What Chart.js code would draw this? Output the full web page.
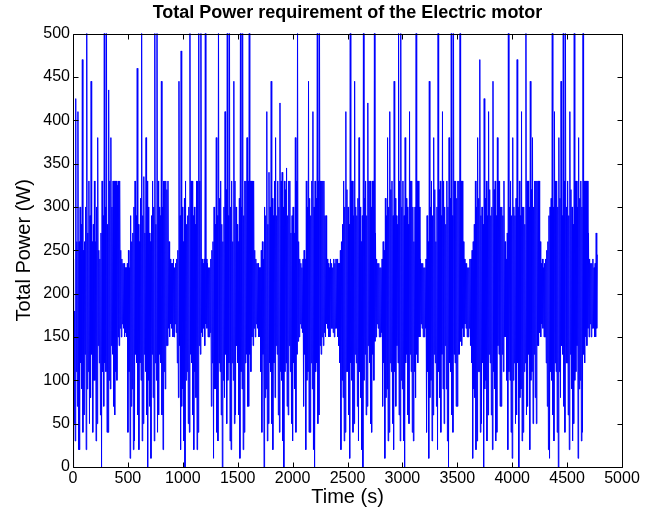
<!DOCTYPE html>
<html>
<head>
<meta charset="utf-8">
<title>Total Power requirement of the Electric motor</title>
<script src="https://cdn.jsdelivr.net/npm/chart.js@4.4.1/dist/chart.umd.min.js"></script>
<style>
  html, body { margin: 0; padding: 0; background: #fff; }
  #wrap { width: 652px; height: 513px; }
</style>
</head>
<body>
<div id="wrap"><canvas id="powerChart" width="652" height="513"></canvas></div>
<script>
/* Sample spacing of the trace, seconds */
const SAMPLE_STEP = 5;

/* Total power (W) in four ~1200 s blocks (20 samples per row = 100 s) */
const cycle1 = [
  0, 240, 50, 180, 30, 425, 110, 260, 70, 410, 20, 260, 20, 300, 120, 280, 90, 470, 40, 250,
  60, 260, 130, 300, 20, 540, 90, 270, 110, 330, 50, 290, 80, 445, 130, 260, 40, 280, 100, 330,
  100, 260, 30, 300, 50, 380, 140, 250, 120, 240, 60, 270, 0, 330, 110, 290, 70, 540, 120, 300,
  110, 520, 40, 280, 40, 435, 100, 330, 90, 380, 140, 300, 130, 330, 70, 330, 60, 330, 110, 330,
  100, 325, 150, 330, 140, 330, 160, 250, 150, 240, 165, 235, 160, 235, 150, 230, 155, 230, 150, 235,
  40, 250, 110, 230, 10, 290, 70, 260, 90, 270, 20, 300, 30, 330, 130, 290, 120, 460, 60, 280,
  20, 260, 120, 310, 100, 540, 30, 290, 50, 335, 130, 270, 110, 380, 60, 330, 0, 300, 100, 270,
  70, 260, 10, 290, 130, 330, 80, 300, 30, 520, 120, 280, 100, 560, 40, 330, 60, 300, 130, 290,
  120, 445, 60, 300, 20, 330, 110, 330, 90, 330, 140, 320, 140, 330, 160, 260, 150, 240, 165, 235,
  160, 235, 150, 240, 150, 230, 165, 235, 155, 240, 120, 250, 80, 445, 140, 290, 20, 480, 70, 300,
  90, 260, 30, 310, 0, 330, 100, 280, 110, 290, 50, 300, 40, 520, 130, 330, 120, 330, 60, 290,
  20, 300, 110, 280, 80, 330, 20, 330, 40, 540, 140, 330, 130, 520, 155, 240, 150, 235, 160, 240,
];
const cycle2 = [
  140, 540, 165, 240, 160, 235, 150, 230, 150, 230, 155, 240, 70, 250, 120, 260, 10, 300, 90, 280,
  90, 380, 40, 290, 30, 540, 120, 310, 110, 330, 60, 280, 0, 260, 100, 300, 80, 410, 130, 320,
  50, 520, 100, 290, 120, 560, 30, 300, 20, 330, 120, 260, 100, 445, 50, 330, 60, 300, 140, 280,
  120, 260, 60, 310, 10, 540, 110, 300, 90, 520, 20, 290, 40, 330, 120, 330, 130, 380, 70, 330,
  70, 520, 130, 330, 110, 330, 150, 330, 140, 330, 160, 250, 150, 240, 165, 235, 160, 235, 150, 230,
  150, 230, 110, 250, 40, 260, 130, 240, 0, 300, 80, 290, 90, 410, 30, 280, 50, 340, 120, 300,
  110, 445, 50, 310, 20, 290, 120, 330, 80, 380, 140, 290, 130, 330, 60, 300, 40, 420, 110, 330,
  100, 340, 30, 300, 0, 330, 110, 320, 120, 345, 70, 290, 60, 330, 140, 330, 110, 270, 50, 290,
  30, 300, 120, 270, 90, 380, 40, 330, 130, 520, 145, 260, 150, 240, 165, 235, 160, 230, 155, 240,
  70, 250, 130, 240, 20, 330, 100, 300, 110, 445, 40, 310, 40, 290, 120, 330, 90, 410, 20, 300,
  0, 330, 110, 310, 120, 540, 50, 330, 60, 520, 140, 330, 130, 330, 150, 330, 140, 330, 155, 290,
  150, 290, 165, 240, 160, 235, 150, 230, 150, 240, 160, 235, 160, 230, 155, 240, 150, 235, 160, 240,
];
const cycle3 = [
  160, 240, 150, 235, 140, 235, 120, 250, 20, 260, 100, 280, 80, 330, 30, 300, 40, 410, 110, 320,
  110, 300, 60, 280, 10, 520, 120, 330, 100, 330, 40, 290, 50, 445, 130, 300, 120, 290, 70, 310,
  30, 380, 110, 300, 80, 260, 20, 290, 0, 540, 100, 310, 130, 330, 60, 290, 70, 420, 140, 330,
  120, 330, 50, 300, 40, 330, 130, 330, 100, 520, 145, 270, 150, 240, 165, 235, 160, 235, 150, 230,
  150, 230, 155, 240, 70, 260, 120, 250, 10, 310, 80, 290, 90, 380, 30, 300, 40, 410, 120, 320,
  110, 330, 50, 290, 20, 445, 110, 310, 70, 290, 140, 280, 120, 540, 60, 330, 30, 520, 100, 300,
  90, 330, 30, 290, 0, 380, 120, 310, 130, 300, 60, 280, 50, 410, 130, 330, 110, 330, 40, 300,
  30, 260, 110, 300, 80, 520, 130, 330, 120, 330, 150, 300, 150, 240, 165, 235, 160, 235, 150, 230,
  150, 230, 160, 240, 40, 290, 110, 260, 10, 445, 80, 300, 100, 330, 30, 290, 60, 380, 130, 320,
  120, 260, 70, 300, 20, 540, 110, 320, 80, 330, 40, 290, 130, 410, 90, 330, 50, 300, 140, 280,
  90, 330, 30, 300, 0, 380, 120, 310, 110, 520, 60, 290, 40, 560, 130, 330, 120, 330, 70, 310,
  70, 330, 130, 330, 130, 520, 145, 330, 140, 330, 160, 260, 150, 240, 165, 235, 160, 235, 150, 230,
];
const cycle4 = [
  150, 230, 160, 240, 140, 240, 120, 250, 10, 260, 90, 280, 80, 330, 20, 300, 30, 380, 110, 310,
  110, 470, 40, 290, 50, 300, 120, 280, 0, 425, 90, 310, 100, 330, 30, 290, 60, 410, 130, 320,
  120, 290, 60, 300, 20, 445, 110, 320, 90, 330, 30, 290, 40, 380, 140, 330, 130, 330, 70, 300,
  70, 300, 130, 290, 110, 330, 150, 260, 150, 240, 100, 270, 20, 520, 110, 300, 100, 330, 40, 290,
  10, 380, 100, 300, 120, 290, 50, 310, 60, 470, 120, 300, 0, 330, 80, 290, 90, 410, 30, 300,
  40, 300, 110, 280, 120, 540, 60, 330, 70, 330, 130, 300, 20, 445, 100, 320, 110, 380, 50, 300,
  130, 330, 80, 330, 50, 330, 140, 330, 140, 330, 155, 260, 150, 235, 165, 240, 160, 230, 150, 235,
  150, 240, 120, 250, 70, 260, 20, 290, 10, 300, 110, 310, 100, 540, 60, 300, 30, 410, 120, 330,
  110, 330, 40, 300, 0, 380, 110, 310, 80, 445, 140, 290, 130, 540, 70, 330, 40, 520, 120, 300,
  120, 330, 60, 290, 20, 410, 130, 320, 90, 300, 30, 280, 50, 540, 100, 330, 110, 330, 140, 300,
  10, 380, 90, 310, 100, 330, 30, 300, 40, 520, 130, 330, 120, 330, 150, 330, 140, 330, 160, 270,
  150, 240, 165, 235, 150, 235, 160, 240, 160, 230, 150, 235, 150, 270, 160, 245,
];

/* Axis ticks */
const xTicks = [0, 500, 1000, 1500, 2000, 2500, 3000, 3500, 4000, 4500, 5000];
const yTicks = [0, 50, 100, 150, 200, 250, 300, 350, 400, 450, 500];

const power = [...cycle1, ...cycle2, ...cycle3, ...cycle4];
const time  = power.map((_, i) => i * SAMPLE_STEP);

const TICK_LEN = 5;

/* MATLAB-style box with inward ticks on all four sides */
const axesBox = {
  id: 'axesBox',
  afterDatasetsDraw(chart) {
    const { ctx, chartArea: a, scales: { x, y } } = chart;
    const l = Math.round(a.left) + 0.5, r = Math.round(a.right) + 0.5;
    const t = Math.round(a.top) + 0.5,  b = Math.round(a.bottom) + 0.5;
    ctx.save();
    ctx.strokeStyle = '#000';
    ctx.lineWidth = 1;
    ctx.beginPath();
    xTicks.forEach((v) => {
      const px = Math.round(x.getPixelForValue(v)) + 0.5;
      ctx.moveTo(px, b); ctx.lineTo(px, b - TICK_LEN);
      ctx.moveTo(px, t); ctx.lineTo(px, t + TICK_LEN);
    });
    yTicks.forEach((v) => {
      const py = Math.round(y.getPixelForValue(v)) + 0.5;
      ctx.moveTo(l, py); ctx.lineTo(l + TICK_LEN, py);
      ctx.moveTo(r, py); ctx.lineTo(r - TICK_LEN, py);
    });
    ctx.moveTo(l, t); ctx.lineTo(r, t); ctx.lineTo(r, b); ctx.lineTo(l, b); ctx.closePath();
    ctx.stroke();
    ctx.restore();
  },
};

Chart.defaults.font.family = "'Liberation Sans', Arial, Helvetica, sans-serif";
Chart.defaults.color = '#000';

new Chart(document.getElementById('powerChart'), {
  type: 'line',
  data: {
    labels: time,
    datasets: [{
      data:        power,
      borderColor: '#0000ff',
      borderWidth: 1,
      pointRadius: 0,
      tension:     0,
      fill:        false,
    }],
  },
  options: {
    responsive: false,
    animation:  false,
    layout: { padding: { left: 0, right: 30, top: 0, bottom: 0 } },
    plugins: {
      legend:  { display: false },
      tooltip: { enabled: false },
      title: {
        display:  true,
        fullSize: false,
        text:     'Total Power requirement of the Electric motor',
        font:     { size: 18, weight: 'bold' },
        padding:  { top: 2, bottom: 10 },
      },
    },
    scales: {
      x: {
        type: 'linear',
        min:  0,
        max:  5000,
        afterBuildTicks: (s) => { s.ticks = xTicks.map((v) => ({ value: v })); },
        afterFit: (s) => { s.height = 46; },
        grid:   { display: false, drawTicks: false },
        border: { display: false },
        ticks:  { font: { size: 16 }, padding: 2, maxRotation: 0, autoSkip: false,
                  callback: (v) => String(v) },
        title:  { display: true, text: 'Time (s)', font: { size: 20 }, padding: { top: 0, bottom: 4 } },
      },
      y: {
        min: 0,
        max: 500,
        afterBuildTicks: (s) => { s.ticks = yTicks.map((v) => ({ value: v })); },
        afterFit: (s) => { s.width = 73; },
        grid:   { display: false, drawTicks: false },
        border: { display: false },
        ticks:  { font: { size: 16 }, padding: 3, autoSkip: false,
                  callback: (v) => String(v) },
        title:  { display: true, text: 'Total Power (W)', font: { size: 20 }, padding: { top: 12, bottom: 0 } },
      },
    },
  },
  plugins: [axesBox],
});
</script>
</body>
</html>
